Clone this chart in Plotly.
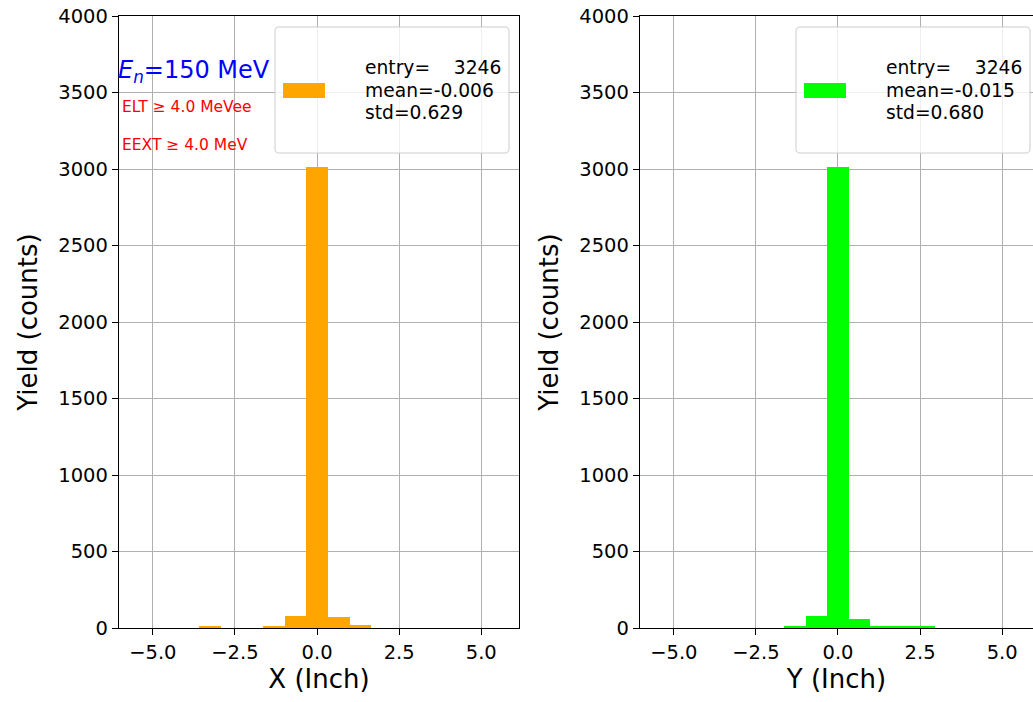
import plotly.graph_objects as go

# ---- data ----
x_bin_width = 0.66
x_bin_left = [-3.59, -1.65, -0.99, -0.33, 0.33, 0.99]
x_counts = [10, 10, 77, 3010, 70, 17]

y_bin_width = 0.657
y_bin_left = [-1.64, -0.983, -0.326, 0.331, 0.988, 1.645, 2.302]
y_counts = [15, 81, 3010, 61, 8, 8, 7]

x_stats = ["entry=\u00a0\u00a0\u00a0\u00a03246", "mean=-0.006", "std=0.629"]
y_stats = ["entry=\u00a0\u00a0\u00a0\u00a03246", "mean=-0.015", "std=0.680"]

y_ticks = [0, 500, 1000, 1500, 2000, 2500, 3000, 3500, 4000]
x_ticks = [-5.0, -2.5, 0.0, 2.5, 5.0]

FONT = "DejaVu Sans"
W, H = 1033, 702
L, R, T, B = 119, 0, 16, 74
PW, PH = W - L - R, H - T - B

def px(xp):
    return (xp - L) / PW

def py(yp):
    return (H - B - yp) / PH

fig = go.Figure()
fig.add_trace(go.Bar(
    x=[e + x_bin_width / 2 for e in x_bin_left], y=x_counts, width=x_bin_width,
    marker=dict(color="#FFA500", line=dict(width=0)), showlegend=False,
    xaxis="x", yaxis="y"))
fig.add_trace(go.Bar(
    x=[e + y_bin_width / 2 for e in y_bin_left], y=y_counts, width=y_bin_width,
    marker=dict(color="#00FF00", line=dict(width=0)), showlegend=False,
    xaxis="x2", yaxis="y2"))

axis_common = dict(
    showgrid=True, gridcolor="#b0b0b0", gridwidth=1.2,
    showline=True, linecolor="black", linewidth=1.3,
    ticks="outside", ticklen=6, tickwidth=1.3, tickcolor="black",
    tickfont=dict(family=FONT, size=19.5, color="black"),
    zeroline=False,
)

fig.update_layout(
    width=W, height=H,
    margin=dict(l=L, r=R, t=T, b=B, autoexpand=False),
    plot_bgcolor="white", paper_bgcolor="white",
    bargap=0,
    font=dict(family=FONT, color="black"),
    xaxis=dict(domain=[0, px(519)], range=[-6.03, 6.15], tickvals=x_ticks,
               tickformat=".1f", mirror=True, anchor="y",
               title=dict(text="X (Inch)", font=dict(size=26), standoff=5),
               **axis_common),
    yaxis=dict(domain=[0, 1], range=[0, 4000], tickvals=y_ticks, mirror=True,
               anchor="x",
               title=dict(text="Yield (counts)", font=dict(size=26), standoff=13),
               **axis_common),
    xaxis2=dict(domain=[px(640), 1], range=[-6.03, 5.94], tickvals=x_ticks,
                tickformat=".1f", mirror=True, anchor="y2",
                title=dict(text="Y (Inch)", font=dict(size=26), standoff=5),
                **axis_common),
    yaxis2=dict(domain=[0, 1], range=[0, 4000], tickvals=y_ticks, mirror=False,
                anchor="x2",
                title=dict(text="Yield (counts)", font=dict(size=26), standoff=13),
                **axis_common),
)

def rounded_rect(x0, y0, x1, y1, r=4):
    def P(a, b):
        return f"{px(a):.5f},{py(b):.5f}"
    return (f"M {P(x0 + r, y0)} L {P(x1 - r, y0)} Q {P(x1, y0)} {P(x1, y0 + r)} "
            f"L {P(x1, y1 - r)} Q {P(x1, y1)} {P(x1 - r, y1)} "
            f"L {P(x0 + r, y1)} Q {P(x0, y1)} {P(x0, y1 - r)} "
            f"L {P(x0, y0 + r)} Q {P(x0, y0)} {P(x0 + r, y0)} Z")

shapes = []
annotations = []
for off, color, stats in [(119, "#FFA500", x_stats), (640, "#00FF00", y_stats)]:
    shapes.append(dict(type="path", xref="paper", yref="paper",
                       path=rounded_rect(off + 156, 27, off + 390, 153),
                       fillcolor="rgba(255,255,255,0.8)",
                       line=dict(color="#cccccc", width=1), layer="above"))
    shapes.append(dict(type="rect", xref="paper", yref="paper",
                       x0=px(off + 164), x1=px(off + 206), y0=py(98), y1=py(83),
                       fillcolor=color, line=dict(width=0), layer="above"))
    for i, line in enumerate(stats):
        annotations.append(dict(xref="paper", yref="paper", x=px(off + 244),
                                y=py(67.5 + 22.5 * i),
                                xanchor="left", yanchor="middle", align="left",
                                showarrow=False, text=line,
                                font=dict(family=FONT, size=18.7, color="black")))

annotations.append(dict(xref="paper", yref="paper", x=px(116), y=py(71),
                        xanchor="left", yanchor="middle", showarrow=False,
                        text="<i>E<sub>n</sub></i>=150 MeV",
                        font=dict(family=FONT, size=24, color="blue")))
annotations.append(dict(xref="paper", yref="paper", x=px(120), y=py(107),
                        xanchor="left", yanchor="middle", showarrow=False,
                        text="ELT \u2265 4.0 MeVee",
                        font=dict(family=FONT, size=15.5, color="red")))
annotations.append(dict(xref="paper", yref="paper", x=px(120), y=py(145),
                        xanchor="left", yanchor="middle", showarrow=False,
                        text="EEXT \u2265 4.0 MeV",
                        font=dict(family=FONT, size=15.5, color="red")))

fig.update_layout(shapes=shapes, annotations=annotations)
fig.write_html("out.html")
